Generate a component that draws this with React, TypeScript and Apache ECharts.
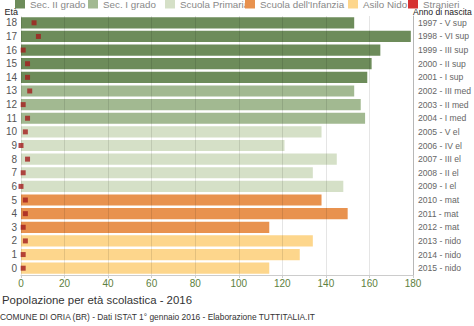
import React, { useEffect, useRef } from "react";
import * as echarts from "echarts";

const ages = ["0", "1", "2", "3", "4", "5", "6", "7", "8", "9", "10", "11", "12", "13", "14", "15", "16", "17", "18"];
const residents = [114, 128, 134, 114, 150, 138, 148, 134, 145, 121, 138, 158, 156, 153, 159, 161, 165, 179, 153];
const foreigners = [1, 1, 2, 1, 2, 2, 0, 1, 3, 0, 2, 3, 1, 4, 3, 3, 1, 8, 6];
const birthLabels = [
  "2015 - nido", "2014 - nido", "2013 - nido",
  "2012 - mat", "2011 - mat", "2010 - mat",
  "2009 - I el", "2008 - II el", "2007 - III el", "2006 - IV el", "2005 - V el",
  "2004 - I med", "2003 - II med", "2002 - III med",
  "2001 - I sup", "2000 - II sup", "1999 - III sup", "1998 - VI sup", "1997 - V sup",
];
const levelNames = ["Sec. II grado", "Sec. I grado", "Scuola Primaria", "Scuola dell'Infanzia", "Asilo Nido"];
const levelColors = ["#6d8c5a", "#a2b991", "#d5e0c7", "#e8924f", "#fdd68c"];
const levelOfAge = [
  "Asilo Nido", "Asilo Nido", "Asilo Nido",
  "Scuola dell'Infanzia", "Scuola dell'Infanzia", "Scuola dell'Infanzia",
  "Scuola Primaria", "Scuola Primaria", "Scuola Primaria", "Scuola Primaria", "Scuola Primaria",
  "Sec. I grado", "Sec. I grado", "Sec. I grado",
  "Sec. II grado", "Sec. II grado", "Sec. II grado", "Sec. II grado", "Sec. II grado",
];
const foreignName = "Stranieri";
const legendLefts = [15, 88, 165, 245, 348, 408];

export default function App() {
  const ref = useRef<HTMLDivElement>(null);
  useEffect(() => {
    document.body.style.margin = "0";
    if (!ref.current) return;
    const chart = echarts.init(ref.current, undefined, { renderer: "svg" });
    const font = "'Liberation Sans', Arial, sans-serif";
    const barSeries = levelNames.map((name, i) => ({
      type: "bar",
      name,
      stack: "age",
      barCategoryGap: "18%",
      itemStyle: { color: levelColors[i] },
      data: residents.map((v, k) => (levelOfAge[k] === name ? v : "-")),
    }));
    const legendNames = [...levelNames, foreignName];
    const legends = legendNames.map((name, i) => ({
      data: [name === foreignName ? { name, itemStyle: { color: "#cc0000" } } : { name }],
      left: legendLefts[i],
      top: -1,
      padding: 0,
      itemWidth: 10,
      itemHeight: 9,
      icon: "rect",
      selectedMode: false,
      textStyle: { fontSize: 9.8, color: "#888", fontFamily: font },
    }));
    chart.setOption({
      animation: false,
      textStyle: { fontFamily: font },
      legend: legends,
      title: [
        {
          text: "Popolazione per età scolastica - 2016",
          left: 2,
          top: 294,
          padding: 0,
          textStyle: { fontSize: 11.4, fontWeight: "normal", color: "#333", fontFamily: font },
        },
        {
          text: "COMUNE DI ORIA (BR) - Dati ISTAT 1° gennaio 2016 - Elaborazione TUTTITALIA.IT",
          left: 0,
          top: 313,
          padding: 0,
          textStyle: { fontSize: 8.4, fontWeight: "normal", color: "#333", fontFamily: font },
        },
      ],
      grid: { left: 21, right: 61, top: 16, bottom: 51, containLabel: false, outerBoundsMode: "none" },
      xAxis: {
        type: "value",
        min: 0,
        max: 180,
        interval: 20,
        z: 3,
        axisLine: { show: true, lineStyle: { color: "#ccc" } },
        axisTick: { show: true, length: 3, lineStyle: { color: "#ccc" } },
        axisLabel: { fontSize: 10, color: "#5d8040", margin: 3 },
        splitLine: { show: true, lineStyle: { color: "rgba(0,0,0,0.1)" } },
      },
      yAxis: [
        {
          type: "category",
          data: ages,
          position: "left",
          axisLine: { show: false },
          axisTick: { show: false },
          axisLabel: { fontSize: 10, color: "#555", margin: 4 },
          name: "Età",
          nameLocation: "end",
          nameGap: 0,
          nameTextStyle: { align: "right", fontSize: 9, color: "#222", padding: [0, 3, 0, 0] },
        },
        {
          type: "category",
          data: birthLabels,
          position: "right",
          axisLine: { show: true, lineStyle: { color: "#ccc" } },
          axisTick: { show: false },
          axisLabel: { fontSize: 8.6, color: "#666", margin: 5 },
          name: "Anno di nascita",
          nameLocation: "end",
          nameGap: 0,
          nameTextStyle: { align: "left", fontSize: 8.6, color: "#222", padding: [0, 0, 0, 0] },
        },
      ],
      series: [
        ...barSeries,
        {
          type: "scatter",
          name: foreignName,
          yAxisIndex: 0,
          symbol: "rect",
          symbolSize: 5,
          z: 5,
          itemStyle: { color: "#a31d1d" },
          data: foreigners.map((v, k) => [v, ages[k]]),
        },
      ],
    });
    return () => chart.dispose();
  }, []);
  return <div ref={ref} style={{ position: "absolute", left: 0, top: 0, width: 474, height: 326 }} />;
}
